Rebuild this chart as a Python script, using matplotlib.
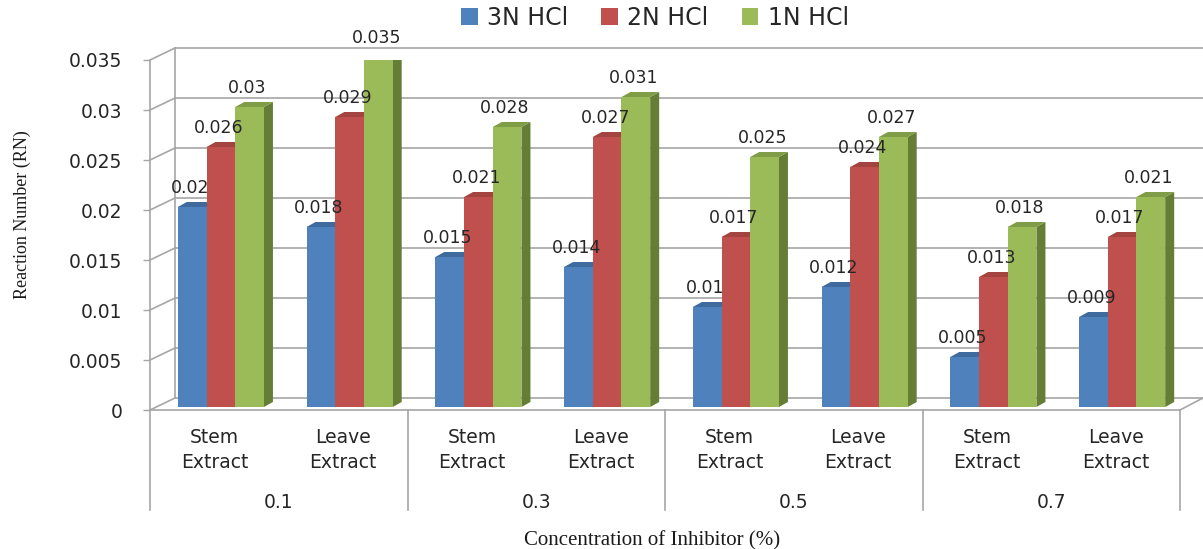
import numpy as np
import matplotlib
matplotlib.use("Agg")
import matplotlib.pyplot as plt
from matplotlib.patches import Polygon, Patch

# ── Data ──────────────────────────────────────────────────────────────────────
concentrations = ["0.1", "0.3", "0.5", "0.7"]
extracts = ["Stem\nExtract", "Leave\nExtract"]
series_names = ["3N HCl", "2N HCl", "1N HCl"]

hcl_3n = [0.020, 0.018, 0.015, 0.014, 0.010, 0.012, 0.005, 0.009]
hcl_2n = [0.026, 0.029, 0.021, 0.027, 0.017, 0.024, 0.013, 0.017]
hcl_1n = [0.030, 0.035, 0.028, 0.031, 0.025, 0.027, 0.018, 0.021]

value_labels = [
    ["0.02", "0.018", "0.015", "0.014", "0.01", "0.012", "0.005", "0.009"],
    ["0.026", "0.029", "0.021", "0.027", "0.017", "0.024", "0.013", "0.017"],
    ["0.03", "0.035", "0.028", "0.031", "0.025", "0.027", "0.018", "0.021"],
]

y_ticks = [0, 0.005, 0.01, 0.015, 0.02, 0.025, 0.03, 0.035]
y_tick_labels = ["0", "0.005", "0.01", "0.015", "0.02", "0.025", "0.03", "0.035"]

# ── Styling ───────────────────────────────────────────────────────────────────
FRONT = ["#4F81BD", "#C0504D", "#9BBB59"]
SIDE = ["#385D8A", "#8C3836", "#657E36"]
TOP = ["#3F6A9E", "#A34441", "#7F9C46"]
GRID = "#A6A6A6"
TEXT = "#262626"

W, H = 1203, 549
fig = plt.figure(figsize=(W / 100, H / 100), dpi=100, facecolor="white")

# front plane of the 3D box in pixels
x0_px, x1_px = 150, 1180
y0_px, y1_px = 410, 60
ax = fig.add_axes([x0_px / W, 1 - y0_px / H, (x1_px - x0_px) / W, (y0_px - y1_px) / H])
ax.set_xlim(0, 8)
ax.set_ylim(0, 0.035)
for s in ax.spines.values():
    s.set_visible(False)
ax.set_xticks([])

px_x = 8 / (x1_px - x0_px)      # data units per pixel (x)
px_y = 0.035 / (y0_px - y1_px)  # data units per pixel (y)

# depth of the back wall
wall_dx, wall_dy = 25 * px_x, 12 * px_y

# ── Walls & gridlines ────────────────────────────────────────────────────────
for v in y_ticks:
    ax.plot([0, wall_dx], [v, v + wall_dy], color=GRID, lw=1.2, clip_on=False, zorder=1)
    ax.plot([wall_dx, 8 + wall_dx], [v + wall_dy, v + wall_dy], color=GRID, lw=1.2,
            clip_on=False, zorder=1)
ax.plot([wall_dx, wall_dx], [wall_dy, 0.035 + wall_dy], color=GRID, lw=1.2, clip_on=False, zorder=1)
ax.plot([0, 0], [0, 0.035], color=GRID, lw=1.2, clip_on=False, zorder=1)
ax.plot([0, 8], [0, 0], color=GRID, lw=1.2, clip_on=False, zorder=1)
ax.plot([8, 8 + wall_dx * 0.92], [0, wall_dy], color=GRID, lw=1.2, clip_on=False, zorder=1)

ax.set_yticks(y_ticks)
ax.set_yticklabels(y_tick_labels, fontsize=13.5, color=TEXT)
ax.tick_params(axis="y", length=5, width=1, color=GRID, pad=15)

# ── Bars ──────────────────────────────────────────────────────────────────────
bar_w = 0.223
bar_dx, bar_dy = 9 * px_x, 5 * px_y
base = 3 * px_y
shift = 6.5 * px_x
centers = np.arange(8) + 0.5

z = 2
for ci in range(8):
    for si, vals in enumerate([hcl_3n, hcl_2n, hcl_1n]):
        v = vals[ci]
        left = centers[ci] + shift + (si - 1.5) * bar_w
        right = left + bar_w
        top = base + v
        ax.bar(left, v, width=bar_w, bottom=base, align="edge", color=FRONT[si],
               linewidth=0, zorder=z + 1)
        side = Polygon([[right, base], [right + bar_dx, base + bar_dy],
                        [right + bar_dx, top + bar_dy], [right, top]],
                       closed=True, facecolor=SIDE[si], edgecolor="none", zorder=z)
        cap = Polygon([[left, top], [left + bar_dx, top + bar_dy],
                       [right + bar_dx, top + bar_dy], [right, top]],
                      closed=True, facecolor=TOP[si], edgecolor="none", zorder=z)
        ax.add_patch(side)
        ax.add_patch(cap)
        ax.text((left + right) / 2 - 2 * px_x, top + 19 * px_y, value_labels[si][ci],
                ha="center", va="center", fontsize=12.5, color=TEXT, zorder=50)
        z += 2

# ── Category axis ────────────────────────────────────────────────────────────
for g in range(5):
    ax.plot([2 * g, 2 * g], [0, -100 * px_y], color=GRID, lw=1.2, clip_on=False, zorder=1)
for ci in range(8):
    ax.text(centers[ci], -40 * px_y, extracts[ci % 2], ha="center", va="center",
            fontsize=13.5, color=TEXT, linespacing=1.35)
for gi, c in enumerate(concentrations):
    ax.text(2 * gi + 1, -92 * px_y, c, ha="center", va="center", fontsize=13.5, color=TEXT)

# ── Titles ───────────────────────────────────────────────────────────────────
fig.text(22 / W, 1 - 215 / H, "Reaction Number (RN)", rotation=90, ha="center", va="center",
         fontsize=13, family="Liberation Serif", color="#1a1a1a")
fig.text(652 / W, 1 - 541 / H, "Concentration of Inhibitor (%)", ha="center", va="center",
         fontsize=15, family="Liberation Serif", color="#1a1a1a")

# ── Legend ───────────────────────────────────────────────────────────────────
handles = [Patch(facecolor=FRONT[i], edgecolor="none", label=series_names[i]) for i in range(3)]
fig.legend(handles=handles, loc="center", bbox_to_anchor=(655 / W, 1 - 18 / H), ncol=3,
           frameon=False, fontsize=17, handlelength=0.7, handleheight=0.7,
           handletextpad=0.4, columnspacing=1.4, labelcolor=TEXT)

fig.savefig("out.png", dpi=100, facecolor="white")
